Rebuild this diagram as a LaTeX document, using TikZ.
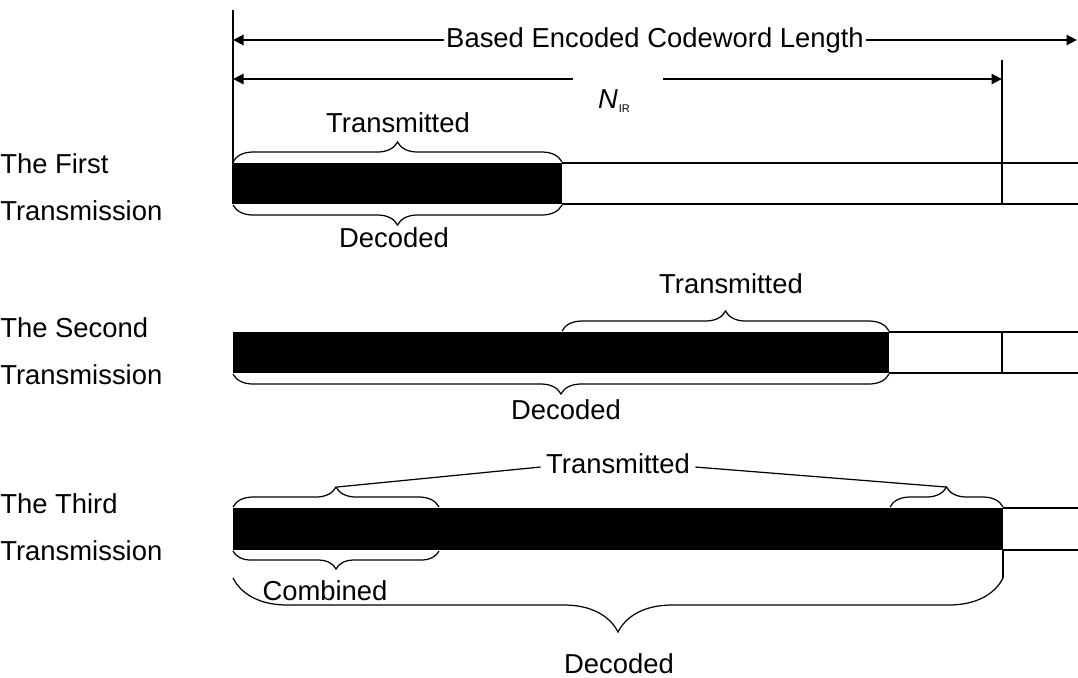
\documentclass[tikz,border=0pt]{standalone}
\usepackage{fontspec}
\setmainfont{Liberation Sans}
\usetikzlibrary{arrows.meta,decorations.pathreplacing}

\begin{document}
\begin{tikzpicture}[x=0.02cm, y=-0.02cm, every node/.style={font=\fontsize{15.6}{18}\selectfont, inner sep=0pt}, lbl/.style={anchor=base west}, txt/.style={anchor=base}, dim/.style={line width=1.6pt}, arrowend/.style={-{Triangle[length=2.1mm,width=2mm]}}, brc/.style={decorate, decoration={brace, amplitude=#1}, line width=0.7pt}, brc/.default=4mm, outline/.style={line width=0.6pt}]
        \useasboundingbox (0,0) rectangle (1078,677);
        % row labels
        \node[lbl] (first) at (0,173) {The First};
        \node[lbl] (firstb) at (0,220) {Transmission};
        \node[lbl] (second) at (0,337) {The Second};
        \node[lbl] (secondb) at (0,384) {Transmission};
        \node[lbl] (third) at (0,513) {The Third};
        \node[lbl] (thirdb) at (0,560) {Transmission};
        % length markers
        \coordinate (top) at (233,10);
        \coordinate (nirtop) at (1002,60);
        \coordinate (bl1) at (233,40);
        \coordinate (br1) at (1077,40);
        \coordinate (bl2) at (233,79);
        \coordinate (br2) at (1002,79);
        \coordinate (gapl) at (573,79);
        \coordinate (gapr) at (663,79);
        \draw[outline] (top) -- (233,204);
        \draw[outline] (nirtop) -- (1002,204);
        \draw[dim, {Triangle[length=2.1mm,width=2mm]}-{Triangle[length=2.1mm,width=2mm]}] (bl1) -- (br1) node[midway, fill=white, inner xsep=1.5pt] (based) {Based Encoded Codeword Length};
        \draw[dim, arrowend] (gapl) -- (bl2);
        \draw[dim, arrowend] (gapr) -- (br2);
        \node[txt] (nir) at (614,108) {\itshape N\hspace{0.5pt}\raisebox{-2.8pt}{\upshape\fontsize{6.3}{7}\selectfont IR}};
        % first transmission
        \fill (233,163) rectangle (562,204);
        \draw[outline] (562,163) -- (1078,163) (562,204) -- (1078,204);
        \draw[brc] (233,162) -- (562,162);
        \draw[brc] (562,205) -- (233,205);
        \node[txt] (tx1) at (398,132) {Transmitted};
        \node[txt] (dec1) at (394,247) {Decoded};
        % second transmission
        \fill (233,332) rectangle (889,373);
        \draw[outline] (889,332) -- (1078,332) (889,373) -- (1078,373) (1002,332) -- (1002,373);
        \draw[brc] (562,331) -- (889,331);
        \draw[brc] (889,374) -- (233,374);
        \node[txt] (tx2) at (731,293) {Transmitted};
        \node[txt] (dec2) at (566,419) {Decoded};
        % third transmission
        \fill (233,508) rectangle (1003,550);
        \draw[outline] (1003,508) -- (1078,508) (1003,550) -- (1078,550);
        \draw[brc] (233,507) -- (439,507);
        \draw[brc] (890,507) -- (1003,507);
        \draw[brc=3.6mm] (439,551) -- (233,551);
        \draw[brc=10.8mm] (1003,578) -- (233,578);
        \draw[line width=0.7pt] (1003,550) -- (1003,578);
        \coordinate (tipl) at (337,487);
        \coordinate (tipr) at (946,487);
        \node[txt, inner xsep=3pt] (tx3) at (618,473) {Transmitted};
        \draw[line width=0.7pt] ([yshift=3.4pt]tx3.base west) -- (tipl);
        \draw[line width=0.7pt] ([yshift=3.4pt]tx3.base east) -- (tipr);
        \node[txt] (comb) at (325,600) {Combined};
        \node[txt] (dec3) at (619,673) {Decoded};
      \end{tikzpicture}
\end{document}
